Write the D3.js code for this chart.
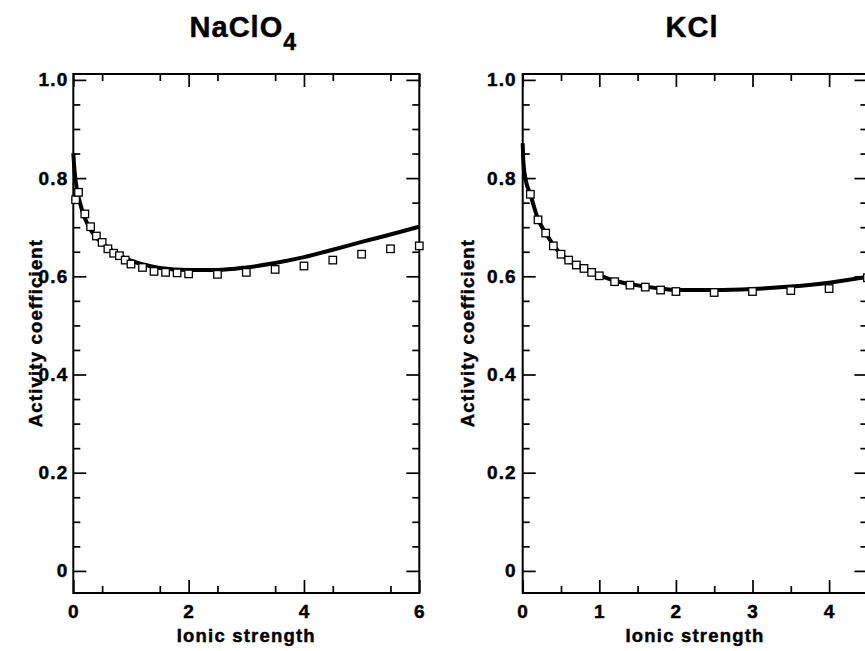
<!DOCTYPE html>
<html>
<head>
<meta charset="utf-8">
<script src="https://cdn.jsdelivr.net/npm/d3@7"></script>
<style>
    body { margin: 0; background: #fff; }
    svg { display: block; }
    text { font-family: 'Liberation Sans', Arial, Helvetica, sans-serif; font-weight: bold; fill: #000; stroke: #000; stroke-width: 0.45px; }
</style>
</head>
<body>
<svg id="chart" width="865" height="651"></svg>
<script>
// NaClO4: measured points (squares) and model curve
const naclo4Ionic = [0.04, 0.09, 0.2, 0.3, 0.4, 0.5, 0.6, 0.7, 0.8, 0.9, 1.0, 1.2, 1.4, 1.6, 1.8, 2.0, 2.5, 3.0, 3.5, 4.0, 4.5, 5.0, 5.5, 6.0];
const naclo4Gamma = [0.756, 0.771, 0.727, 0.701, 0.682, 0.669, 0.656, 0.647, 0.642, 0.633, 0.625, 0.618, 0.610, 0.608, 0.607, 0.605, 0.604, 0.608, 0.614, 0.621, 0.633, 0.645, 0.656, 0.662];
const naclo4CurveI = [0, 0.025, 0.065, 0.12, 0.17, 0.27, 0.37, 0.5, 0.7, 1.0, 1.25, 1.5, 2.0, 2.5, 3.0, 3.5, 4.0, 4.5, 5.0, 5.5, 6.0];
const naclo4CurveGamma = [0.851, 0.81, 0.776, 0.748, 0.728, 0.701, 0.683, 0.668, 0.650, 0.632, 0.623, 0.617, 0.613, 0.613, 0.618, 0.627, 0.639, 0.654, 0.670, 0.685, 0.701];

// KCl
const kclIonic = [0.1, 0.2, 0.3, 0.4, 0.5, 0.6, 0.7, 0.8, 0.9, 1.0, 1.2, 1.4, 1.6, 1.8, 2.0, 2.5, 3.0, 3.5, 4.0, 4.5];
const kclGamma = [0.767, 0.715, 0.688, 0.662, 0.645, 0.633, 0.623, 0.616, 0.608, 0.601, 0.589, 0.582, 0.578, 0.572, 0.569, 0.567, 0.569, 0.571, 0.575, 0.597];
const kclCurveI = [0, 0.01, 0.04, 0.1, 0.2, 0.3, 0.4, 0.5, 0.6, 0.7, 0.8, 1.0, 1.2, 1.4, 1.6, 1.8, 2.0, 2.5, 3.0, 3.5, 4.0, 4.5];
const kclCurveGamma = [0.871, 0.83, 0.796, 0.767, 0.716, 0.688, 0.664, 0.645, 0.633, 0.623, 0.615, 0.602, 0.591, 0.584, 0.579, 0.575, 0.572, 0.572, 0.574, 0.579, 0.587, 0.599];

// tick labels
const yTickValues = [0, 0.2, 0.4, 0.6, 0.8, 1.0];
const yTickLabels = ['0', '0.2', '0.4', '0.6', '0.8', '1.0'];
const naclo4XTicks = [0, 2, 4, 6];
const kclXTicks = [0, 1, 2, 3, 4];

const svg = d3.select('#chart');

function drawPanel(cfg) {
    const x = d3.scaleLinear().domain(cfg.xDomain).range([cfg.left, cfg.right]);
    const y = d3.scaleLinear().domain([-0.045, 1.012]).range([593, 74]);
    const g = svg.append('g');

    const xMinor = d3.range(0.5, cfg.xDomain[1], 1).filter(v => !cfg.xTicks.includes(v));
    const yMinor = d3.range(0, 1.001, 0.05).filter(v => !yTickValues.some(t => Math.abs(t - v) < 1e-6));

    // style helper for axis groups
    const styleAxis = a => {
        a.select('.domain').remove();
        a.selectAll('line').attr('stroke', '#000').attr('stroke-width', 1.7);
        a.attr('font-family', null).attr('font-size', null);
        a.selectAll('text').style('font-size', '19px').style('letter-spacing', '1.1px');
    };

    // bottom + top
    [[d3.axisBottom, y.range()[0]], [d3.axisTop, y.range()[1]]].forEach(([axisFn, ypos], i) => {
        g.append('g').attr('transform', `translate(0,${ypos})`)
            .call(axisFn(x).tickValues(xMinor).tickSize(-7).tickFormat(''))
            .call(styleAxis);
        g.append('g').attr('transform', `translate(0,${ypos})`)
            .call(axisFn(x).tickValues(cfg.xTicks).tickSize(-13).tickPadding(12)
                .tickFormat(i === 0 ? d3.format('d') : ''))
            .call(styleAxis);
    });

    // left + right
    [[d3.axisLeft, cfg.left], [d3.axisRight, cfg.right]].forEach(([axisFn, xpos], i) => {
        g.append('g').attr('transform', `translate(${xpos},0)`)
            .call(axisFn(y).tickValues(yMinor).tickSize(-7).tickFormat(''))
            .call(styleAxis);
        g.append('g').attr('transform', `translate(${xpos},0)`)
            .call(axisFn(y).tickValues(yTickValues).tickSize(-13).tickPadding(cfg.yPad)
                .tickFormat((d, k) => i === 0 ? yTickLabels[k] : ''))
            .call(styleAxis);
    });

    // frame
    g.append('rect')
        .attr('x', cfg.left).attr('y', y.range()[1])
        .attr('width', cfg.right - cfg.left).attr('height', y.range()[0] - y.range()[1])
        .attr('fill', 'none').attr('stroke', '#000').attr('stroke-width', 2);

    // model curve
    const line = d3.line()
        .x(d => x(d[0]))
        .y(d => y(d[1]))
        .curve(d3.curveMonotoneX);
    g.append('path')
        .datum(cfg.curveI.map((v, k) => [v, cfg.curveGamma[k]]))
        .attr('d', line)
        .attr('fill', 'none')
        .attr('stroke', '#000')
        .attr('stroke-width', 4);

    // measured points
    const s = 7.5;
    g.selectAll('.pt')
        .data(cfg.ionic.map((v, k) => [v, cfg.gamma[k]]))
        .join('rect')
        .attr('class', 'pt')
        .attr('x', d => x(d[0]) - s / 2)
        .attr('y', d => y(d[1]) - s / 2)
        .attr('width', s).attr('height', s)
        .attr('fill', '#fff')
        .attr('stroke', '#000')
        .attr('stroke-width', 1.3);

    // title
    const cx = (cfg.left + cfg.right) / 2 - 3;
    const title = g.append('text')
        .attr('x', cx).attr('y', 37)
        .attr('text-anchor', 'middle')
        .style('font-size', '29px')
        .style('letter-spacing', '1px');
    title.append('tspan').text(cfg.title);
    if (cfg.sub) {
        title.append('tspan').attr('dy', 13).style('font-size', '23px').text(cfg.sub);
    }

    // axis titles
    g.append('text')
        .attr('x', (cfg.left + cfg.right) / 2).attr('y', 642)
        .attr('text-anchor', 'middle')
        .style('font-size', '18.5px').style('letter-spacing', '1.2px')
        .text('Ionic strength');

    g.append('text')
        .attr('transform', `translate(${cfg.yTitleX},333) rotate(-90)`)
        .attr('text-anchor', 'middle')
        .style('font-size', '18.5px').style('letter-spacing', '1.2px')
        .text('Activity coefficient');
}

drawPanel({
    left: 73.3, right: 419.3, xDomain: [0, 6], xTicks: naclo4XTicks, yPad: 5,
    yTitleX: 42, title: 'NaClO', sub: '4',
    ionic: naclo4Ionic, gamma: naclo4Gamma, curveI: naclo4CurveI, curveGamma: naclo4CurveGamma
});

drawPanel({
    left: 522.7, right: 867.4, xDomain: [0, 4.5], xTicks: kclXTicks, yPad: 6,
    yTitleX: 474, title: 'KCl', sub: null,
    ionic: kclIonic, gamma: kclGamma, curveI: kclCurveI, curveGamma: kclCurveGamma
});
</script>
</body>
</html>
